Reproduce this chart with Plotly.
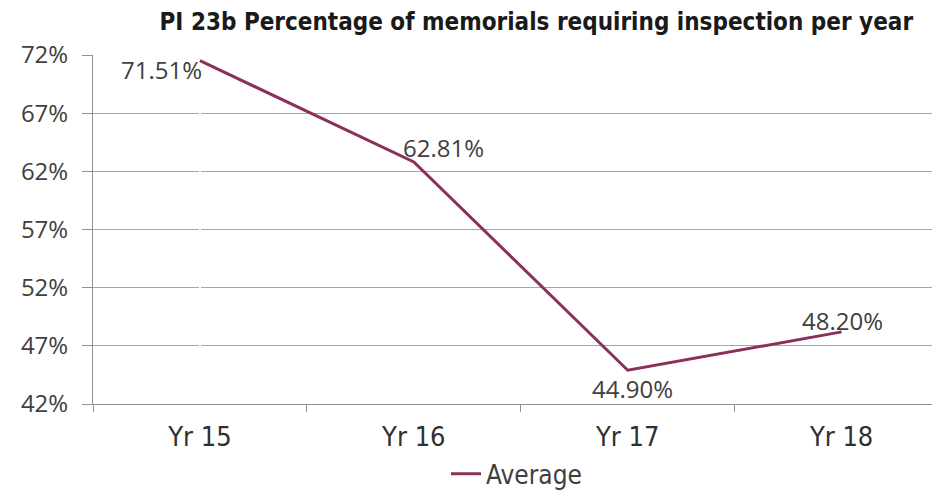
import plotly.graph_objects as go

categories = ["Yr 15", "Yr 16", "Yr 17", "Yr 18"]
average = [71.51, 62.81, 44.90, 48.20]
labels = ["71.51%", "62.81%", "44.90%", "48.20%"]
tick_vals = [42, 47, 52, 57, 62, 67, 72]
tick_text = ["42%", "47%", "52%", "57%", "62%", "67%", "72%"]

# label offsets from each point (pixels) - style only
label_shift = [(-38, -9), (30, 14), (5, -18), (1, 11)]

color = "#8B2F5B"
cond = "DejaVu Sans Condensed, Liberation Sans Narrow, Roboto, sans-serif"
plain = "Open Sans, sans-serif"

H = 520  # figure taller than the window; the extra strip is out of view

fig = go.Figure()
fig.add_trace(go.Scatter(
    x=categories, y=average, mode="lines", name="Average",
    line=dict(color=color, width=3),
))

for cat, val, lab, (dx, dy) in zip(categories, average, labels, label_shift):
    fig.add_annotation(x=cat, y=val, text=lab, showarrow=False,
                       xshift=dx, yshift=dy, xanchor="center", yanchor="middle",
                       font=dict(family=plain, size=24, color="#404040"))

fig.update_layout(
    width=940, height=H,
    margin=dict(l=85, r=8, t=47, b=H - 396),
    paper_bgcolor="white", plot_bgcolor="white",
    title=dict(text="<b>PI 23b Percentage of memorials requiring inspection per year</b>",
               x=0.562, xanchor="center", xref="container",
               y=1 - 14 / H, yanchor="middle",
               font=dict(family=cond, size=24, color="#1a1a1a")),
    showlegend=True,
    legend=dict(orientation="h", x=0.5, xanchor="center",
                y=-0.2, yanchor="middle",
                font=dict(family=cond, size=26, color="#404040")),
    xaxis=dict(range=[-0.5, 3.46], showgrid=False, showline=True, linecolor="#909090",
               ticks="outside", ticklen=7, tickcolor="#909090",
               tickmode="array", tickvals=[-0.5, 0.5, 1.5, 2.5],
               ticktext=["", "", "", ""]),
    yaxis=dict(range=[42, 72], tickvals=tick_vals, ticktext=tick_text,
               showgrid=True, gridcolor="#a6a6a6", gridwidth=1,
               showline=True, linecolor="#909090", ticks="outside", ticklen=10,
               tickcolor="#909090", zeroline=False, ticklabelstandoff=9,
               tickfont=dict(family=plain, size=24, color="#404040")),
)

# category labels as a secondary x axis
fig.update_layout(xaxis2=dict(overlaying="x", matches="x", side="bottom", anchor="y",
                              range=[-0.5, 3.46], showgrid=False, showline=False,
                              tickmode="array", tickvals=[0, 1, 2, 3], ticktext=categories,
                              ticks="", ticklabelstandoff=14,
                              tickfont=dict(family=cond, size=27, color="#303030")))
fig.add_trace(go.Scatter(x=[0, 1, 2, 3], y=[None]*4, xaxis="x2", showlegend=False, hoverinfo="skip"))

fig.write_html("out.html")
